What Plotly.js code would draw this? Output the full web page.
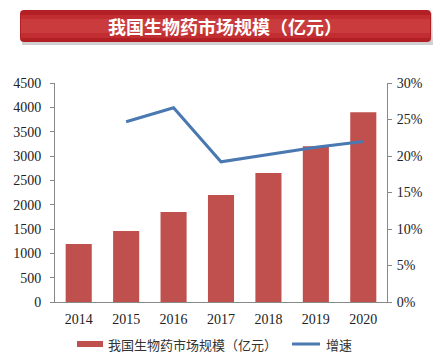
<!DOCTYPE html>
<html><head><meta charset="utf-8">
<script src="https://cdn.plot.ly/plotly-3.0.1.min.js"></script>
<style>html,body{margin:0;padding:0;background:#fff}#c{width:434px;height:360px}</style>
</head><body><div id="c"></div>
<script>
const years = ['2014','2015','2016','2017','2018','2019','2020'];
const marketSize = [1190, 1460, 1850, 2200, 2650, 3200, 3900];
const growthYears = ['2015','2016','2017','2018','2019','2020'];
const growthRate = [0.247, 0.266, 0.192, 0.202, 0.212, 0.220];
const leftTicks = [0,500,1000,1500,2000,2500,3000,3500,4000,4500];
const rightTicks = [0,0.05,0.10,0.15,0.20,0.25,0.30];
const rightTickText = ['0%','5%','10%','15%','20%','25%','30%'];
const titleText = '我国生物药市场规模（亿元）';
const barName = '我国生物药市场规模（亿元）';
const lineName = '增速';

const serif = 'Liberation Serif, Times New Roman, serif';
const cjk = 'Noto Sans CJK SC, sans-serif';
const barColor = '#c0504d';
const lineColor = '#4a78b0';

const traces = [
  {type:'bar', x:years, y:marketSize, name:barName, marker:{color:barColor}, width:0.55, yaxis:'y', showlegend:false},
  {type:'scatter', mode:'lines', x:growthYears, y:growthRate, name:lineName, line:{color:lineColor, width:3}, yaxis:'y2', showlegend:false}
];

const L=55, R=47, T=83, B=58;
const pw = 434-L-R, ph = 360-T-B;
function px(x){return (x-L)/pw;}
function py(y){return (360-B-y)/ph;}

const layout = {
  width:434, height:360,
  margin:{l:L, r:R, t:T, b:B, autoexpand:false},
  paper_bgcolor:'#fff', plot_bgcolor:'#fff',
  showlegend:false,
  xaxis:{type:'category', showgrid:false, showline:true, linecolor:'#888', linewidth:1, ticks:'', tickfont:{family:serif, size:14, color:'#222'}, range:[-0.5,6.5], ticklabelstandoff:4},
  yaxis:{range:[0,4500], tickvals:leftTicks, showgrid:false, showline:true, linecolor:'#888', linewidth:1, ticks:'outside', ticklen:4, tickcolor:'#888', tickfont:{family:serif, size:14, color:'#222'}, zeroline:false, ticklabelstandoff:6},
  yaxis2:{overlaying:'y', side:'right', range:[0,0.30], tickvals:rightTicks, ticktext:rightTickText, showgrid:false, showline:true, linecolor:'#888', linewidth:1, ticks:'outside', ticklen:4, tickcolor:'#888', tickfont:{family:serif, size:14, color:'#222'}, zeroline:false, ticklabelstandoff:2},
  shapes:[
    {type:'path', xref:'paper', yref:'paper', path:`M ${px(23)},${py(13)} L ${px(432)},${py(13)} L ${px(433)},${py(45)} L ${px(22)},${py(45)} Z`, fillcolor:'#d0d0d0', line:{width:0}},
    {type:'path', xref:'paper', yref:'paper', path:`M ${px(24)},${py(10)} L ${px(427)},${py(10)} Q ${px(431)},${py(10)} ${px(431)},${py(14)} L ${px(431)},${py(38)} Q ${px(431)},${py(42)} ${px(427)},${py(42)} L ${px(24)},${py(42)} Q ${px(20)},${py(42)} ${px(20)},${py(38)} L ${px(20)},${py(14)} Q ${px(20)},${py(10)} ${px(24)},${py(10)} Z`, fillcolor:'#b21f24', line:{width:0}},
    {type:'rect', xref:'paper', yref:'paper', x0:px(21), x1:px(430), y0:py(15), y1:py(38), fillcolor:'#c12d30', line:{width:0}},
    {type:'rect', xref:'paper', yref:'paper', x0:px(21), x1:px(430), y0:py(19), y1:py(33), fillcolor:'#ca3b3d', line:{width:0}},
    // legend swatches
    {type:'rect', xref:'paper', yref:'paper', x0:px(77), x1:px(103), y0:py(347), y1:py(341), fillcolor:barColor, line:{width:0}},
    {type:'line', xref:'paper', yref:'paper', x0:px(292), x1:px(320), y0:py(344), y1:py(344), line:{color:lineColor, width:3}}
  ],
  annotations:[
    {xref:'paper', yref:'paper', x:px(225), y:py(26), xanchor:'center', yanchor:'middle', text:'<b>'+titleText+'</b>', showarrow:false, font:{family:cjk, size:18, color:'#ffffff'}},
    {xref:'paper', yref:'paper', x:px(106), y:py(344), xanchor:'left', yanchor:'middle', text:barName, showarrow:false, font:{family:cjk, size:13, color:'#333'}},
    {xref:'paper', yref:'paper', x:px(324), y:py(344), xanchor:'left', yanchor:'middle', text:lineName, showarrow:false, font:{family:cjk, size:13, color:'#333'}}
  ]
};

Plotly.newPlot('c', traces, layout, {displayModeBar:false, staticPlot:true});
</script></body></html>
